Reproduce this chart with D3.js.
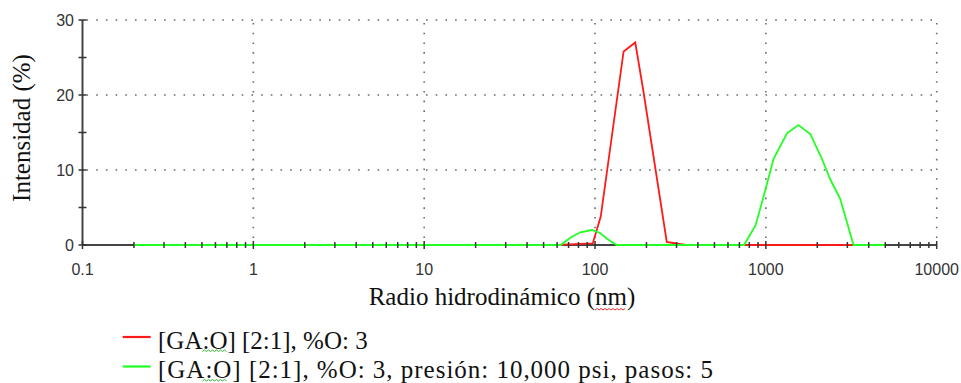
<!DOCTYPE html>
<html>
<head>
<meta charset="utf-8">
<script src="https://cdn.jsdelivr.net/npm/d3@7/dist/d3.min.js"></script>
<style>
  html, body { margin: 0; padding: 0; background: #fff; }
  svg { display: block; }
</style>
</head>
<body>
<svg id="chart" width="961" height="383"></svg>
<script>
// ---- data ----
const xTickLabels = ["0.1", "1", "10", "100", "1000", "10000"];
const yTickLabels = ["0", "10", "20", "30"];

const redSize = [0.2, 60, 97, 108, 126, 147, 172, 192, 220, 263, 299, 340, 5000];
const redVal  = [0,   0,  0.2, 3.8, 14.8, 25.8, 27.0, 20.5, 11.8, 0.4, 0.2, 0, 0];

const greenSize = [0.2, 63, 72, 82, 96, 107, 118, 134, 745, 870, 968, 1110, 1330, 1550, 1820, 2100, 2400, 2720, 3260, 5000];
const greenVal  = [0,   0,  1.0, 1.7, 2.0, 1.6, 0.8, 0,  0,   2.6, 6.4, 11.5, 14.9, 16.0, 14.8, 11.8, 8.6, 6.2, 0, 0];

const seriesNames = ["[GA:O] [2:1], %O: 3", "[GA:O] [2:1], %O: 3, presión: 10,000 psi, pasos: 5"];
const seriesColors = ["#ff1a1a", "#22ff22"];

// ---- layout ----
const svg = d3.select("#chart");
const x = d3.scaleLog().domain([0.1, 10000]).range([82.5, 936.7]);
const y = d3.scaleLinear().domain([0, 30]).range([245, 20]);
const [x0, x1] = x.range();
const [yb, yt] = y.range();

// gridlines (dotted)
const grid = svg.append("g").attr("stroke", "#6a6a6a").attr("stroke-width", 1.6)
  .attr("stroke-dasharray", "1.6 8.1").attr("fill", "none");
grid.selectAll("line.h").data([10, 20, 30]).join("line")
  .attr("x1", x0 + 4).attr("x2", x1).attr("y1", d => y(d)).attr("y2", d => y(d));
grid.selectAll("line.v").data([1, 10, 100, 1000, 10000]).join("line")
  .attr("x1", d => x(d)).attr("x2", d => x(d)).attr("y1", yt + 3).attr("y2", yb);

// axis lines
svg.append("line").attr("x1", x0).attr("x2", x0).attr("y1", yt).attr("y2", yb)
  .attr("stroke", "#444").attr("stroke-width", 2);
svg.append("line").attr("x1", x0).attr("x2", x1).attr("y1", yb).attr("y2", yb)
  .attr("stroke", "#444").attr("stroke-width", 2);

// series
const line = d3.line().x(d => x(d[0])).y(d => y(d[1]));
const redData = redSize.map((s, i) => [s, redVal[i]]);
const greenData = greenSize.map((s, i) => [s, greenVal[i]]);
svg.append("path").datum(redData).attr("d", line)
  .attr("fill", "none").attr("stroke", seriesColors[0]).attr("stroke-width", 1.8);
svg.append("path").datum(greenData).attr("d", line)
  .attr("fill", "none").attr("stroke", seriesColors[1]).attr("stroke-width", 1.8);

// ticks (crossing the axes)
const tk = svg.append("g").attr("stroke", "#333").attr("stroke-width", 1.5);
const isMajor = d => Math.abs(Math.log10(d) - Math.round(Math.log10(d))) < 1e-6;
tk.selectAll("line.xt").data(x.ticks()).join("line")
  .attr("x1", d => x(d)).attr("x2", d => x(d))
  .attr("y1", d => yb - (isMajor(d) ? 4 : 3))
  .attr("y2", d => yb + (isMajor(d) ? 4 : 3));
tk.selectAll("line.yt").data(d3.range(0, 31, 5)).join("line")
  .attr("x1", x0 - 4).attr("x2", x0 + 4).attr("y1", d => y(d)).attr("y2", d => y(d));

// tick labels
const lab = svg.append("g").attr("font-family", "'Liberation Sans', Arial, sans-serif")
  .attr("font-size", 16).attr("fill", "#333");
lab.selectAll("text.x").data(xTickLabels).join("text")
  .attr("x", d => x(+d)).attr("y", 275).attr("text-anchor", "middle").text(d => d);
lab.selectAll("text.y").data(yTickLabels).join("text")
  .attr("x", 74).attr("y", d => y(+d) + 6).attr("text-anchor", "end").text(d => d);

// axis titles
const serif = "'Liberation Serif', 'Times New Roman', serif";
const xTitle = svg.append("text").attr("x", 502).attr("y", 305).attr("text-anchor", "middle")
  .attr("font-family", serif).attr("font-size", 25).attr("fill", "#111")
  .text("Radio hidrodinámico (nm)");
svg.append("text").attr("transform", "translate(30,128) rotate(-90)").attr("text-anchor", "middle")
  .attr("font-family", serif).attr("font-size", 25).attr("fill", "#111")
  .text("Intensidad (%)");

// wavy spell-check underline helper
function wavy(x1, x2, yy, color) {
  let d = `M${x1},${yy}`;
  let up = true;
  for (let xx = x1 + 2; xx <= x2; xx += 2) { d += `L${xx},${up ? yy - 1.5 : yy}`; up = !up; }
  svg.append("path").attr("d", d).attr("fill", "none").attr("stroke", color).attr("stroke-width", 1);
}
{
  const node = xTitle.node();
  const full = node.getComputedTextLength();
  const t = node.textContent;
  const start = 502 - full / 2;
  const i = t.indexOf("nm");
  const a = start + node.getSubStringLength(0, i);
  const w = node.getSubStringLength(i, 2);
  wavy(a, a + w, 310, "#e03030");
}

// legend
const leg = svg.append("g");
const legY = [337, 366.5];
const legLen = [null, 555];
seriesNames.forEach((name, i) => {
  leg.append("line").attr("x1", 122.7).attr("x2", 150.7).attr("y1", legY[i]).attr("y2", legY[i])
    .attr("stroke", seriesColors[i]).attr("stroke-width", 2.2);
  const t = leg.append("text").attr("x", 158).attr("y", legY[i] + 11.5)
    .attr("font-family", serif).attr("font-size", 25).attr("fill", "#111").text(name);
  if (legLen[i]) t.attr("textLength", legLen[i]).attr("lengthAdjust", "spacing");
  const node = t.node();
  const j = name.indexOf(":O");
  const a = 158 + node.getSubStringLength(0, j);
  const w = node.getSubStringLength(j, 2);
  wavy(a, a + w, legY[i] + 14.5, "#30b030");
});
</script>
</body>
</html>
